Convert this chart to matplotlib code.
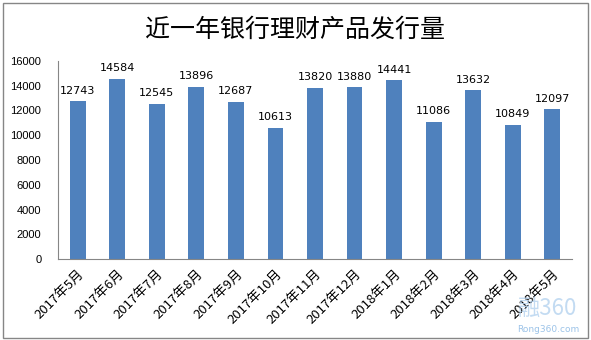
import matplotlib.pyplot as plt
from matplotlib.patches import Rectangle

plt.rcParams['font.family'] = ['Noto Sans CJK SC', 'DejaVu Sans']

meses = ['2017年5月', '2017年6月', '2017年7月', '2017年8月', '2017年9月',
         '2017年10月', '2017年11月', '2017年12月', '2018年1月', '2018年2月',
         '2018年3月', '2018年4月', '2018年5月']
valores = [12743, 14584, 12545, 13896, 12687, 10613, 13820, 13880,
           14441, 11086, 13632, 10849, 12097]
ticks_y = [0, 2000, 4000, 6000, 8000, 10000, 12000, 14000, 16000]

fig = plt.figure(figsize=(5.91, 3.40), dpi=100)
ax = fig.add_axes([58/591, 1 - 259/340, 514/591, 198/340])

x = range(len(meses))
barras = ax.bar(x, valores, width=0.4, color='#4f81bd')
for xi, v in zip(x, valores):
    ax.text(xi, v + 450, str(v), ha='center', va='bottom', fontsize=8,
            family='DejaVu Sans')

ax.set_xlim(-0.5, len(meses) - 0.5)
ax.set_ylim(0, 16000)
ax.set_yticks(ticks_y)
ax.set_yticklabels([str(t) for t in ticks_y], fontsize=8, family='Liberation Sans')
ax.set_xticks(list(x))
ax.set_xticklabels(meses, rotation=45, ha='right', rotation_mode='anchor',
                   fontsize=9.5)
ax.tick_params(axis='both', length=0, pad=6)
ax.tick_params(axis='y', pad=12)
for lado in ['top', 'right']:
    ax.spines[lado].set_visible(False)
ax.spines['left'].set_color('#868686')
ax.spines['bottom'].set_color('#868686')

fig.text(0.5, 1 - 30/340, '近一年银行理财产品发行量', ha='center', va='center',
         fontsize=18, fontweight='medium')

# marca de agua
fig.text(548/591, 1 - 308/340, '融360', ha='center', va='center',
         fontsize=16, color='#b5d3ef', alpha=0.8)
fig.text(548/591, 1 - 330/340, 'Rong360.com', ha='center', va='center',
         fontsize=6.5, color='#9cc3e8', family='DejaVu Sans')

# borde
fig.patches.append(Rectangle((3/591, 2/340), 585/591, 335/340,
                             transform=fig.transFigure, fill=False,
                             edgecolor='#868686', linewidth=1))

fig.savefig('out.png', dpi=100)
